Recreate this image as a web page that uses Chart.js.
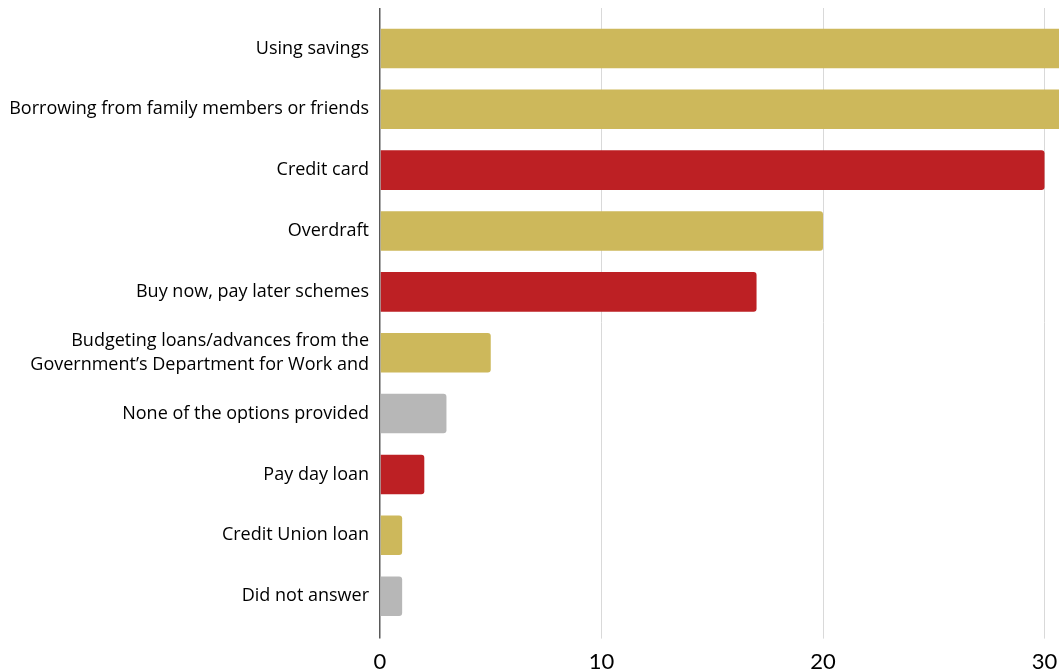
<!DOCTYPE html>
<html>
<head>
<meta charset="utf-8">
<script src="https://cdn.jsdelivr.net/npm/chart.js@4.4.1/dist/chart.umd.min.js"></script>
<style>
  html, body { margin: 0; padding: 0; background: #fff; overflow: hidden; }
  #wrap { position: relative; width: 1300px; height: 700px; }
</style>
</head>
<body>
<div id="wrap"><canvas id="c"></canvas></div>
<script>
const categories = [
  "Using savings",
  "Borrowing from family members or friends",
  "Credit card",
  "Overdraft",
  "Buy now, pay later schemes",
  ["Budgeting loans/advances from the", "Government\u2019s Department for Work and"],
  "None of the options provided",
  "Pay day loan",
  "Credit Union loan",
  "Did not answer"
];
const values = [37, 34, 30, 20, 17, 5, 3, 2, 1, 1];
const groups = ["other", "other", "credit", "other", "credit", "other", "none", "credit", "other", "none"];
const xTicks = [0, 10, 20, 30, 40];

const palette = { other: "#CDB85B", credit: "#BD2024", none: "#B7B7B7" };
const LABEL_FONT = "'Open Sans', Lato, sans-serif";
const TICK_FONT = "Lato, 'Open Sans', sans-serif";

new Chart(document.getElementById("c"), {
  type: "bar",
  data: {
    labels: categories,
    datasets: [{
      data: values,
      backgroundColor: groups.map(g => palette[g]),
      borderWidth: 0,
      borderRadius: { topRight: 3, bottomRight: 3, topLeft: 0, bottomLeft: 0 },
      borderSkipped: false,
      categoryPercentage: 1,
      barPercentage: 0.65
    }]
  },
  options: {
    indexAxis: "y",
    responsive: true,
    maintainAspectRatio: false,
    animation: false,
    layout: { padding: { top: 8, right: 34, bottom: 15, left: 0 } },
    plugins: { legend: { display: false }, tooltip: { enabled: false } },
    scales: {
      x: {
        position: "bottom",
        min: xTicks[0],
        max: xTicks[xTicks.length - 1],
        afterBuildTicks: (axis) => { axis.ticks = xTicks.map(v => ({ value: v })); },
        border: { display: false },
        grid: {
          color: (ctx) => ctx.tick && ctx.tick.value === 0 ? "#595959" : "#D9D9D9",
          lineWidth: (ctx) => ctx.tick && ctx.tick.value === 0 ? 1.5 : 1,
          drawTicks: true,
          tickLength: 12
        },
        ticks: {
          color: "#000",
          font: { family: TICK_FONT, size: 22 },
          padding: 10,
          maxRotation: 0
        }
      },
      x2: {
        position: "top",
        min: xTicks[0],
        max: xTicks[xTicks.length - 1],
        afterBuildTicks: (axis) => { axis.ticks = xTicks.map(v => ({ value: v })); },
        border: { display: false },
        grid: {
          color: (ctx) => ctx.tick && ctx.tick.value === 0 ? "#595959" : "#D9D9D9",
          lineWidth: (ctx) => ctx.tick && ctx.tick.value === 0 ? 1.5 : 1,
          drawOnChartArea: false,
          drawTicks: true,
          tickLength: 10
        },
        ticks: { display: false, padding: 0 }
      },
      y: {
        afterFit: (axis) => { axis.width = 380; axis.paddingTop = 0; axis.paddingBottom = 0; },
        border: { display: false },
        grid: { display: false, drawTicks: false },
        ticks: {
          color: "#000",
          font: { family: LABEL_FONT, size: 18, lineHeight: 1.33 },
          padding: 11,
          autoSkip: false
        }
      }
    }
  }
});
</script>
</body>
</html>
